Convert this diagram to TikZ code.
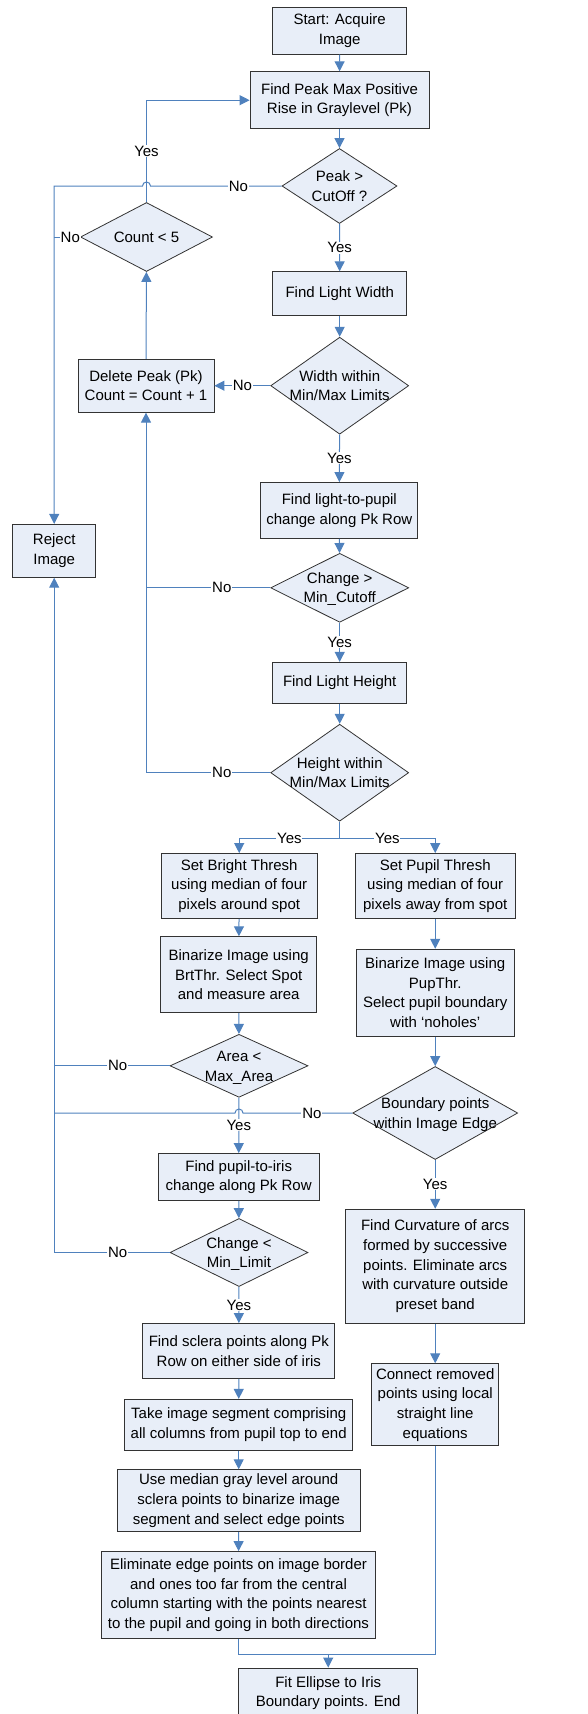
\documentclass[tikz,border=0pt]{standalone}
\usepackage{fontspec}
\setmainfont{Liberation Sans}
\usetikzlibrary{shapes.geometric,arrows.meta}

\definecolor{lineblue}{RGB}{79,129,189}
\definecolor{boxfill}{RGB}{232,238,248}
\newcommand{\fs}{\fontsize{15}{19.7}\selectfont}
% text of a diamond, takes no room so the diamond keeps its size
\newcommand{\dtxt}[1]{\smash{\makebox[0pt]{\raisebox{-5pt}{\begin{tabular}{@{}c@{}}#1\end{tabular}}}}}

\tikzset{
  box/.style={rectangle, draw=black!80, line width=0.8pt, fill=boxfill, inner sep=0pt, align=center, font=\fs},
  decision/.style={diamond, draw=black!80, line width=0.8pt, fill=boxfill, inner sep=0pt, font=\fs},
  flow/.style={draw=lineblue, line width=1pt, -{Triangle[length=10pt,width=10pt]}},
  link/.style={draw=lineblue, line width=1pt},
  lbl/.style={fill=white, inner sep=0.8pt, font=\fs},
}

\begin{document}
\begin{tikzpicture}[x=1pt, y=-1pt]
    \useasboundingbox (0,0) rectangle (588,1714);

    % main column
    \node[box, minimum width=134, minimum height=47] (start) at (339.7, 30.8) {Start: Acquire\\Image};
    \node[box, minimum width=179, minimum height=57] (peak) at (339.5, 100.2) {Find Peak Max Positive\\Rise in Graylevel (Pk)};
    \node[decision, minimum width=115, minimum height=75] (peakq) at (339.5, 186) {\dtxt{Peak >\\CutOff ?}};
    \node[box, minimum width=134, minimum height=44] (lwidth) at (339.7, 293.7) {Find Light Width};
    \node[decision, minimum width=138, minimum height=97] (widthq) at (339.7, 385.7) {\dtxt{Width within\\Min/Max Limits}};
    \node[box, minimum width=157, minimum height=56] (lightpupil) at (339.3, 510.5) {Find light-to-pupil\\change along Pk Row};
    \node[decision, minimum width=138, minimum height=69] (changeq) at (339.7, 587.8) {\dtxt{Change >\\Min\_Cutoff}};
    \node[box, minimum width=134, minimum height=41] (lheight) at (339.7, 682.8) {Find Light Height};
    \node[decision, minimum width=138, minimum height=97] (heightq) at (339.7, 772.7) {\dtxt{Height within\\Min/Max Limits}};

    % left loop
    \node[decision, minimum width=132, minimum height=69] (countq) at (146.5, 237) {\dtxt{Count < 5}};
    \node[box, minimum width=136, minimum height=53] (delete) at (146, 385.7) {Delete Peak (Pk)\\Count = Count + 1};
    \node[box, minimum width=83, minimum height=53] (reject) at (54.2, 550.8) {Reject\\Image};

    % bright spot branch
    \node[box, minimum width=156, minimum height=65] (bright) at (239.2, 886) {Set Bright Thresh\\using median of four\\pixels around spot};
    \node[box, minimum width=156, minimum height=76] (binl) at (238.7, 974.7) {Binarize Image using\\BrtThr. Select Spot\\and measure area};
    \node[decision, minimum width=138, minimum height=63] (areaq) at (239, 1065.8) {\dtxt{Area <\\Max\_Area}};
    \node[box, minimum width=161, minimum height=47] (pupiliris) at (238.7, 1177) {Find pupil-to-iris\\change along Pk Row};
    \node[decision, minimum width=138, minimum height=68] (changeq2) at (239, 1252.5) {\dtxt{Change <\\Min\_Limit}};
    \node[box, minimum width=192, minimum height=55] (sclera) at (238.8, 1351) {Find sclera points along Pk\\Row on either side of iris};
    \node[box, minimum width=228, minimum height=51] (segment) at (238.7, 1424.8) {Take image segment comprising\\all columns from pupil top to end};
    \node[box, minimum width=243, minimum height=62] (median) at (238.7, 1500.7) {Use median gray level around\\sclera points to binarize image\\segment and select edge points};
    \node[box, minimum width=274, minimum height=87] (elim) at (238.5, 1595) {Eliminate edge points on image border\\and ones too far from the central\\column starting with the points nearest\\to the pupil and going in both directions};

    % pupil branch
    \node[box, minimum width=160, minimum height=65] (pupil) at (435.2, 886) {Set Pupil Thresh\\using median of four\\pixels away from spot};
    \node[box, minimum width=158, minimum height=87] (binr) at (435.2, 992.7) {Binarize Image using\\PupThr.\\Select pupil boundary\\with `noholes'};
    \node[decision, minimum width=165, minimum height=93] (boundq) at (435.2, 1113) {\dtxt{Boundary points\\within Image Edge}};
    \node[box, minimum width=179, minimum height=114] (curv) at (435.2, 1266.2) {Find Curvature of arcs\\formed by successive\\points. Eliminate arcs\\with curvature outside\\preset band};
    \node[box, minimum width=127, minimum height=82] (connect) at (435.2, 1404.7) {Connect removed\\points using local\\straight line\\equations};

    \node[box, minimum width=179, minimum height=50] (fit) at (328.2, 1693) {Fit Ellipse to Iris\\Boundary points. End};

    % connectors
    \draw[flow] (start) -- (peak);
    \draw[flow] (peak) -- (peakq);
    \draw[flow] (peakq) -- node[lbl]{Yes} (lwidth);
    \draw[flow] (peakq.west) -- node[lbl, pos=.33]{No} (150.5,186) arc (0:-180:4) -- (reject.north |- peakq.west) -- (reject.north);
    \draw[flow] (countq.north) -- node[lbl]{Yes} (countq.north |- peak.west) -- (peak.west);
    \draw[link] (countq.west) -- node[lbl, pos=.38]{No} (reject.north |- countq.west);
    \draw[flow] (lwidth) -- (widthq);
    \draw[flow] (widthq.west) -- node[lbl]{No} (delete.east);
    \draw[flow] (widthq) -- node[lbl]{Yes} (lightpupil);
    \draw[flow] (delete) -- (countq);
    \draw[flow] (lightpupil) -- (changeq);
    \draw[link] (changeq.west) -- node[lbl, pos=.39]{No} (delete.south |- changeq.west);
    \draw[flow] (changeq) -- node[lbl]{Yes} (lheight);
    \draw[flow] (lheight) -- (heightq);
    \draw[flow] (heightq.west) -- node[lbl, pos=.39]{No} (delete.south |- heightq.west) -- (delete.south);

    \coordinate (split) at (339.7, 838.7);
    \draw[link] (heightq.south) -- (split);
    \draw[flow] (split) -| node[lbl, pos=.25]{Yes} (bright.north);
    \draw[flow] (split) -| node[lbl, pos=.25]{Yes} (pupil.north);

    \draw[flow] (bright) -- (binl);
    \draw[flow] (binl) -- (areaq);
    \draw[link] (areaq.west) -- node[lbl, pos=.45]{No} (reject.south |- areaq.west);
    \draw[flow] (areaq) -- node[lbl]{Yes} (pupiliris);
    \draw[flow] (pupil) -- (binr);
    \draw[flow] (binr) -- (boundq);
    \draw[link] (boundq.west) -- node[lbl, pos=.37]{No} (243,1113) arc (0:-180:4) -- (reject.south |- boundq.west);
    \draw[flow] (boundq) -- node[lbl]{Yes} (curv);
    \draw[flow] (curv) -- (connect);
    \draw[flow] (pupiliris) -- (changeq2);
    \draw[flow] (changeq2.west) -- node[lbl, pos=.45]{No} (reject.south |- changeq2.west) -- (reject.south);
    \draw[flow] (changeq2) -- node[lbl]{Yes} (sclera);
    \draw[flow] (sclera) -- (segment);
    \draw[flow] (segment) -- (median);
    \draw[flow] (median) -- (elim);

    \coordinate (merge) at (328.2, 1654);
    \draw[flow] (elim.south) |- (merge) -- (fit.north);
    \draw[link] (connect.south) |- (merge);

\end{tikzpicture}
\end{document}
